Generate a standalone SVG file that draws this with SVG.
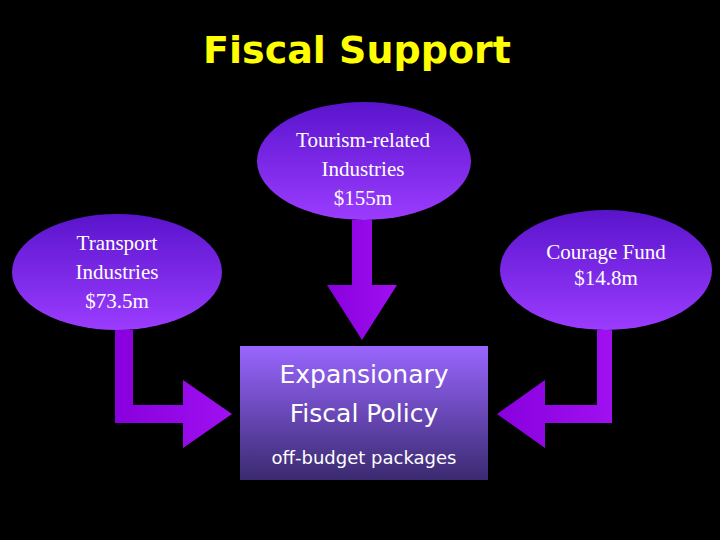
<svg xmlns="http://www.w3.org/2000/svg" width="720" height="540" viewBox="0 0 720 540">
<defs>
<linearGradient id="eg" x1="0" y1="0" x2="0" y2="1"><stop offset="0" stop-color="#5a14cc"/><stop offset="1" stop-color="#9b3cff"/></linearGradient>
<linearGradient id="bg" x1="0" y1="0" x2="0" y2="1"><stop offset="0" stop-color="#9966ff"/><stop offset="1" stop-color="#3a2a70"/></linearGradient>
<linearGradient id="ag" x1="0" y1="0" x2="1" y2="0"><stop offset="0" stop-color="#8800dd"/><stop offset="1" stop-color="#a010f0"/></linearGradient>
<style>
.ser{font-family:"Liberation Serif",serif;font-size:21px;fill:#fff;text-anchor:middle}
.san{font-family:"DejaVu Sans","Noto Sans",sans-serif;fill:#fff;text-anchor:middle}
.arr{fill:url(#ag)}
</style>
</defs>
<rect width="720" height="540" fill="#000"/>
<text x="357" y="63" font-family="DejaVu Sans,sans-serif" font-weight="bold" font-size="38" fill="#ffff00" text-anchor="middle">Fiscal Support</text>
<g id="connectors">
<path class="arr" d="M352 220H372V285H397L362 340L327 285H352Z"/>
<path class="arr" d="M115 330H133V405H183V380L232 414L183 448V423H115Z"/>
<path class="arr" d="M612 330H597V405H545V380L497 414L545 448V423H612Z"/>
</g>
<g id="tourism"><ellipse cx="364" cy="161" rx="107" ry="59" fill="url(#eg)"/>
<text class="ser" x="363" y="147">Tourism-related</text><text class="ser" x="363" y="176">Industries</text><text class="ser" x="363" y="205">$155m</text></g>
<g id="transport"><ellipse cx="117" cy="272" rx="105" ry="58" fill="url(#eg)"/>
<text class="ser" x="117" y="250">Transport</text><text class="ser" x="117" y="279">Industries</text><text class="ser" x="117" y="308">$73.5m</text></g>
<g id="courage"><ellipse cx="606" cy="270" rx="106" ry="60" fill="url(#eg)"/>
<text class="ser" x="606" y="259">Courage Fund</text><text class="ser" x="606" y="285">$14.8m</text></g>
<g id="policy"><rect x="240" y="346" width="248" height="134" fill="url(#bg)"/>
<text class="san" x="364" y="383" font-size="25">Expansionary</text><text class="san" x="364" y="422" font-size="25">Fiscal Policy</text><text class="san" x="364" y="464" font-size="18">off-budget packages</text></g>
</svg>
